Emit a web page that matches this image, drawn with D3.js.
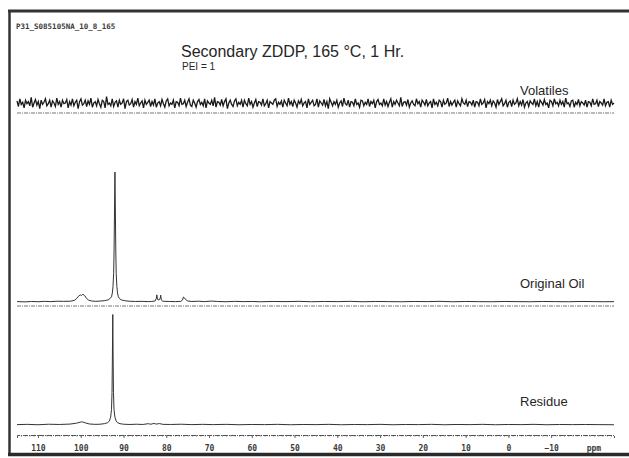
<!DOCTYPE html>
<html>
<head>
<meta charset="utf-8">
<script src="https://cdn.jsdelivr.net/npm/d3@7"></script>
<style>
  body { margin: 0; background: #fff; }
  text { font-family: "Liberation Sans", Arial, sans-serif; fill: #262626; }
  .mono { font-family: "DejaVu Sans Mono", monospace; font-weight: bold; fill: #3a3a3a; }
</style>
</head>
<body>
<script>
var width = 629, height = 458;

// tick labels of the ppm axis
const ppmTicks = [110, 100, 90, 80, 70, 60, 50, 40, 30, 20, 10, 0, -10];
const traceLabels = ["Volatiles", "Original Oil", "Residue"];

const volatilesStart = 114.9, volatilesEnd = -24.7;
const volatiles = [
  1.5,-2.5,3,-1,0.5,-3.5,2,-0.5,1,-2,4,-3,0,2.5,-1.5,1,-4,2,-1,0.5,
  3,-2,-0.5,2,-3,1.5,0,-2.5,3.5,-1,1,-3,2,-0.5,0,2.5,-3.5,1,-1.5,3,
  -2,0.5,2,-4,1,3,-1.5,-0.5,2,-2.5,1.5,-1,3.5,-3,0,1,-2,2.5,-0.5,-3,
  2,1,-3.5,4.5,-1,0,-2,3,-2.5,0.5,1.5,-3,2,-1,0,3,-4,1,2,-1.5,
  -0.5,2.5,-3,1,-1,3.5,-2,0,1.5,-3.5,2,-1,0.5,2,-2.5,1,-1.5,3,-3,0,
  1,-2,2.5,-0.5,-3,1.5,3,-2,0,-1,2,-3.5,1,0.5,-2,3.5,-1,-0.5,2,-2.5,
  0.5,3,-1.5,-2.5,2,0,-3,1,2.5,-1,0.5,-2,3,-3.5,1.5,0,-1,2,-2,4,
  -3,1,0.5,-1.5,2.5,-2,1,3,-4,0,2,-1,-2.5,1.5,3,-2,0.5,-1,2,-3,
  2,-0.5,-2,3.5,-1,1,-3,0,2.5,-2.5,1,0.5,-1.5,3,-2,-0.5,2,-3.5,1,0,
  -1,2,3,-2.5,0.5,-1,1.5,-3,2,0,-2,3.5,-1,1,-2.5,2,0,-3,1.5,-0.5,
  2.5,-2,0,1,-3.5,3,-1,0.5,2,-2,-1,3,-3,1.5,0,-1.5,2.5,-2,1,-4,
  3,0.5,-2,1,-1,2,-3,0,1.5,-2.5,3.5,-0.5,-1.5,2,-3,1,0.5,-2,3,-1,
  0,-3,2,1.5,-2,0.5,-1,3,-2.5,1,-0.5,2,-3.5,1,2.5,-1,0,-2,3,-1.5,
  1,-2.5,0.5,3,-3,1,-1,2,0,-2,4,-2.5,0.5,1,-1.5,2.5,-3,0,1.5,-1,
  -2,3,-0.5,1,-3,2,0.5,-1.5,2.5,-2,0,1,-3.5,3,-1,0.5,-2,2,1,-3,
  2,-1,0,3.5,-2.5,1,-1.5,0.5,2,-3,1.5,-0.5,-2,3,0,-1,2,-2.5,1,0.5,
  -1.5,2,-3,1,0.5,-2,3,-1,0,2.5,-3.5,1,-0.5,2,-2,1.5,0,-3,2.5,-1,
  1,3,-2,-0.5,2,-3,0.5,1.5,-2.5,2,-1,0,3,-2,1,-1.5,2.5,-3,0,1,
  -2.5,1.5,0,-1,3,-2,1,-3,2,0.5,-1.5,2.5,-1,0,-3.5,2,1,-2,3,-0.5,
  0.5,-2,2,-1,1,-3,3.5,-0.5,0,-2.5,1.5,2,-3,0.5,-1,2.5,-2,1,0,-1.5,
  2,-3,1,0.5,-2,3,-1,-0.5,2,-2.5,1,0,-1.5,3,-2,0.5,1,-3,2,-1,
  0
];

// original oil: [ppm, intensity]
const originalOil = [
  [114.9,0.3],[113,0.1],[111.5,0.4],[110,0.2],[108.5,0.5],[107,0.3],[105.5,0.6],[104,0.5],
  [102.5,0.6],[101.5,1.2],[101,2.5],[100.5,4.5],[100.1,5.5],[99.8,5],[99.5,6],[99.1,5],
  [98.7,3],[98.2,1.5],[97.5,0.8],[96.5,0.5],[95.5,0.7],[94.5,1.0],[93.6,1.6],[93.2,2.5],
  [92.8,4],[92.6,7],[92.45,12],[92.3,22],[92.2,40],[92.1,70],[92.0,100],[91.9,70],
  [91.8,40],[91.7,22],[91.55,12],[91.4,7],[91.2,4],[90.9,2.5],[90.5,1.6],[89.7,1.0],
  [88.7,0.6],[87.2,0.4],[85.7,0.5],[84.2,0.3],[83.5,0.4],[82.6,0.8],[82.3,3],[82.2,5.5],
  [82.05,2],[81.7,1.5],[81.4,3],[81.3,5.3],[81.15,1.5],[80.8,0.6],[79.3,0.4],[77.8,0.3],
  [76.6,0.5],[76.2,1.5],[76.0,3.8],[75.8,3.4],[75.5,2],[75,0.8],[74,0.4],[72.5,0.6],
  [71,0.3],[69.5,0.7],[68,0.4],[66,0.2],[64,0.5],[62,0.3],[60,0.4],[58,0.2],
  [55,0.4],[52,0.3],[49,0.5],[46,0.2],[43,0.4],[40,0.3],[37,0.5],[34,0.2],
  [31,0.4],[28,0.3],[25,0.2],[22,0.4],[19,0.3],[16,0.5],[13,0.2],[10,0.4],
  [7,0.3],[4,0.2],[1,0.4],[-2,0.3],[-5,0.2],[-8,0.4],[-11,0.3],[-14,0.2],
  [-17,0.4],[-20,0.3],[-22.5,0.2],[-24.7,0.3]
];

// residue: [ppm, intensity]
const residue = [
  [114.9,0.3],[112.5,0.5],[110,0.2],[107.5,0.6],[105,0.4],[102.5,0.7],[101,1.4],[100.1,2.2],
  [99.6,2.4],[98.9,1.6],[98,0.8],[96.7,0.5],[95.5,0.6],[94.5,1.0],[93.7,1.8],[93.3,3],
  [93.0,6],[92.8,12],[92.68,25],[92.6,50],[92.5,85],[92.42,50],[92.34,25],[92.22,12],
  [92.0,6],[91.7,3],[91.4,1.8],[90.8,1.0],[90,0.6],[88.5,0.4],[87,0.6],[85.5,0.4],
  [84.2,1.0],[83.6,0.6],[82.9,1.2],[82.3,0.7],[81.6,1.1],[80.8,0.5],[79,0.4],[76.5,0.6],
  [74,0.3],[71.5,0.5],[69,0.3],[66,0.5],[63,0.2],[60,0.4],[57,0.3],[54,0.5],
  [51,0.2],[48,0.4],[45,0.3],[42,0.5],[39,0.2],[36,0.4],[33,0.3],[30,0.5],
  [27,0.2],[24,0.4],[21,0.3],[18,0.5],[15,0.2],[12,0.4],[9,0.3],[6,0.5],
  [3,0.2],[0,0.4],[-3,0.3],[-6,0.5],[-9,0.2],[-12,0.4],[-15,0.3],[-18,0.4],
  [-21,0.3],[-24.7,0.2]
];

var svg = d3.select("body").append("svg")
  .attr("width", width)
  .attr("height", height);

svg.append("rect").attr("width", width).attr("height", height).attr("fill", "#fff");

// frame of the scanned page
svg.append("line").attr("x1", 8).attr("x2", width).attr("y1", 11).attr("y2", 11)
  .attr("stroke", "#333").attr("stroke-width", 3);
svg.append("line").attr("x1", 9.5).attr("x2", 9.5).attr("y1", 10).attr("y2", 455)
  .attr("stroke", "#333").attr("stroke-width", 2.5);
svg.append("line").attr("x1", 8).attr("x2", width).attr("y1", 454.5).attr("y2", 454.5)
  .attr("stroke", "#2a2a2a").attr("stroke-width", 3.5);

var x = d3.scaleLinear().domain([114.9, -24.7]).range([17, 614]);

// y scales, one per stacked trace
var yVol = d3.scaleLinear().domain([-5, 5]).range([110, 96]);
var yOil = d3.scaleLinear().domain([0, 100]).range([302, 172]);
var yRes = d3.scaleLinear().domain([0, 100]).range([425, 295]);

var volStep = (volatilesStart - volatilesEnd) / (volatiles.length - 1);

var volLine = d3.line()
  .x(function(d, i) { return x(volatilesStart - i * volStep); })
  .y(function(d) { return yVol(d); });

var oilLine = d3.line()
  .x(function(d) { return x(d[0]); })
  .y(function(d) { return yOil(d[1]); });

var resLine = d3.line()
  .x(function(d) { return x(d[0]); })
  .y(function(d) { return yRes(d[1]); });

// dotted guide lines under the upper traces
[113, 306].forEach(function(yy) {
  svg.append("line")
    .attr("x1", x(114.9)).attr("x2", x(-24.7))
    .attr("y1", yy).attr("y2", yy)
    .attr("stroke", "#777").attr("stroke-width", 1)
    .attr("stroke-dasharray", "4,1,1,1");
});

svg.append("path").datum(volatiles)
  .attr("d", volLine)
  .attr("fill", "none").attr("stroke", "#1a1a1a").attr("stroke-width", 1.3);

svg.append("path").datum(originalOil)
  .attr("d", oilLine)
  .attr("fill", "none").attr("stroke", "#333").attr("stroke-width", 1);

svg.append("path").datum(residue)
  .attr("d", resLine)
  .attr("fill", "none").attr("stroke", "#333").attr("stroke-width", 1);

// ppm axis: minor ticks every ppm, then labelled ticks
var minorG = svg.append("g")
  .attr("transform", "translate(0,435)")
  .call(d3.axisBottom(x).tickValues(d3.range(114, -25, -1)).tickSize(1.5).tickFormat(""));
minorG.select(".domain").remove();

var majorG = svg.append("g")
  .attr("transform", "translate(0,435)")
  .call(d3.axisBottom(x).tickValues(ppmTicks).tickSize(3).tickPadding(7).tickFormat(d3.format("d")));

majorG.select(".domain")
  .attr("stroke", "#555")
  .attr("stroke-dasharray", "5,1,1,1");
svg.selectAll(".tick line").attr("stroke", "#666");
majorG.selectAll(".tick text")
  .attr("class", "mono")
  .attr("font-size", 8);

svg.append("text")
  .attr("class", "mono")
  .attr("x", x(-20)).attr("y", 450.5)
  .attr("text-anchor", "middle")
  .attr("font-size", 8)
  .text("ppm");

// trace labels
var labelY = [95, 288, 406];
traceLabels.forEach(function(t, i) {
  svg.append("text")
    .attr("x", 520).attr("y", labelY[i])
    .attr("font-size", 13)
    .text(t);
});

// titles
svg.append("text")
  .attr("x", 181).attr("y", 57)
  .attr("font-size", 16)
  .text("Secondary ZDDP, 165 \u00B0C, 1 Hr.");

svg.append("text")
  .attr("x", 182).attr("y", 70)
  .attr("font-size", 10)
  .text("PEI = 1");

svg.append("text")
  .attr("class", "mono")
  .attr("x", 16).attr("y", 29)
  .attr("font-size", 7.5)
  .text("P31_S085105NA_10_8_165");
</script>
</body>
</html>
